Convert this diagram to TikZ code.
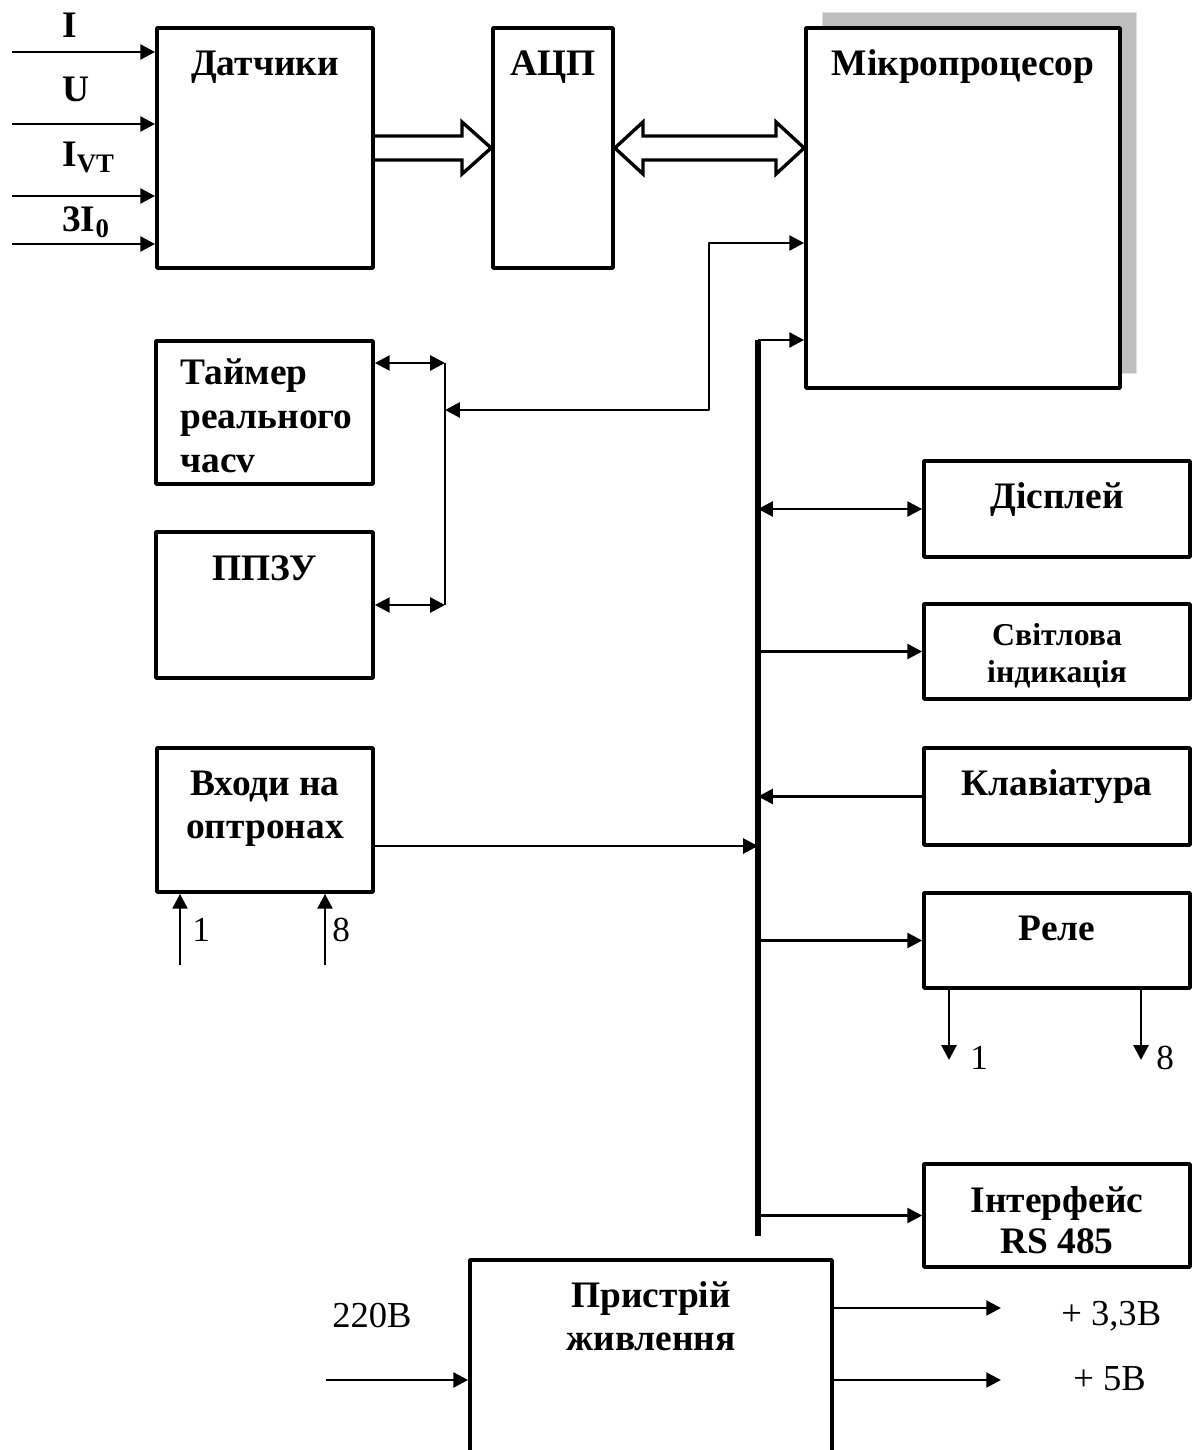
\documentclass[tikz,border=0pt]{standalone}
\usepackage{fontspec}
\setmainfont{Liberation Serif}
\usetikzlibrary{arrows.meta,fit}

\tikzset{
  blok/.style={draw, line width=2.6pt, fill=white, inner sep=0pt},
  nazva/.style={font=\bfseries\fontsize{26.6}{32}\selectfont, inner sep=0pt, anchor=base},
  mala/.style={font=\bfseries\fontsize{22.6}{27}\selectfont, inner sep=0pt, anchor=base},
  pidpys/.style={font=\fontsize{26}{30}\selectfont, inner sep=0pt, anchor=base west},
  nomer/.style={font=\fontsize{25}{29}\selectfont, inner sep=0pt, anchor=base west},
  zvyaz/.style={line width=2pt},
  shyna/.style={line width=4pt},
  porozh/.style={line width=2.4pt, line join=miter},
}

\begin{document}
\begin{tikzpicture}[x=0.025cm, y=-0.025cm, >={Triangle[length=10.5pt,width=10.5pt]}, line join=round]
        \useasboundingbox (0,0) rectangle (1196,1450);
        \clip (0,0) rectangle (1196,1450);
        % shadow of the processor
        \fill[black!25, draw=black!12, line width=0.6pt] (822,12) rectangle (1136,373);
        % blocks
        \node (dat) [blok, fit={(157,28) (373,268)}] {};
        \node (adc) [blok, fit={(493,28) (613,268)}] {};
        \node (mp) [blok, fit={(806,28) (1120,388)}] {};
        \node (tmr) [blok, fit={(156,341) (373,484)}] {};
        \node (ppzu) [blok, fit={(156,532) (373,678)}] {};
        \node (vhody) [blok, fit={(157,748) (373,892)}] {};
        \node (disp) [blok, fit={(924,461) (1190,557)}] {};
        \node (svit) [blok, fit={(924,604) (1190,699)}] {};
        \node (klav) [blok, fit={(924,748) (1190,845)}] {};
        \node (rele) [blok, fit={(924,893) (1190,988)}] {};
        \node (rs) [blok, fit={(924,1164) (1190,1267)}] {};
        \node (pwr) [blok, fit={(470,1260) (832,1480)}] {};
        % block texts
        \node (datT) [nazva] at (dat.north |- 0,76) {Датчики};
        \node (adcT) [nazva] at (adc.north |- 0,76) {АЦП};
        \node (mpT) [nazva] at (mp.north |- 0,76) {Мікропроцесор};
        \node (tmrT1) [nazva, anchor=base west] at (180,385) {Таймер};
        \node (tmrT2) [nazva, anchor=base west] at (180,429) {реального};
        \node (tmrT3) [nazva, anchor=base west] at (180,472) {часv};
        \node (ppzuT) [nazva] at (ppzu.north |- 0,580) {ППЗУ};
        \node (vhT1) [nazva] at (vhody.north |- 0,795) {Входи на};
        \node (vhT2) [nazva] at (vhody.north |- 0,838) {оптронах};
        \node (dispT) [nazva] at (disp.north |- 0,508) {Дісплей};
        \node (svT1) [mala] at (svit.north |- 0,645) {Світлова};
        \node (svT2) [mala] at (svit.north |- 0,682) {індикація};
        \node (klT) [nazva] at (klav.north |- 0,795) {Клавіатура};
        \node (relT) [nazva] at (rele.north |- 0,940) {Реле};
        \node (rsT1) [nazva] at (rs.north |- 0,1212) {Інтерфейс};
        \node (rsT2) [nazva] at (rs.north |- 0,1253) {RS 485};
        \node (pwT1) [nazva] at (pwr.north |- 0,1307) {Пристрій};
        \node (pwT2) [nazva] at (pwr.north |- 0,1350) {живлення};
        % inputs of the sensors
        \coordinate (inI) at (12,52); \coordinate (inU) at (12,124);
        \coordinate (inVT) at (12,196); \coordinate (in3I) at (12,244);
        \draw[zvyaz,->] (inI) -- (inI -| dat.west);
        \draw[zvyaz,->] (inU) -- (inU -| dat.west);
        \draw[zvyaz,->] (inVT) -- (inVT -| dat.west);
        \draw[zvyaz,->] (in3I) -- (in3I -| dat.west);
        \node (lI) [nazva, anchor=base west] at (62,38) {I};
        \node (lU) [nazva, anchor=base west] at (62,102) {U};
        \node (lVT) [nazva, anchor=base west] at (62,167) {I\raisebox{-0.15cm}{\fontsize{19}{19}\selectfont VT}};
        \node (l3I) [nazva, anchor=base west] at (62,232) {3I\raisebox{-0.15cm}{\fontsize{19}{19}\selectfont 0}};
        % wide arrows
        \draw[porozh] (dat.east |- 0,136) -- (462,136) -- (462,122) -- (adc.west |- 0,148)
            -- (462,174) -- (462,160) -- (dat.east |- 0,160);
        \draw[porozh] (adc.east |- 0,148) -- (643,122) -- (643,136) -- (776,136) -- (776,122)
            -- (mp.west |- 0,148) -- (776,174) -- (776,160) -- (643,160) -- (643,174) -- cycle;
        % timer and memory
        \coordinate (tb1) at (445,363); \coordinate (tb2) at (445,605); \coordinate (tjoin) at (445,410);
        \draw[zvyaz] (tb1) -- (tb2);
        \draw[zvyaz,<->] (tmr.east |- tb1) -- (tb1);
        \draw[zvyaz,<->] (ppzu.east |- tb2) -- (tb2);
        \draw[zvyaz,<->] (tjoin) -- (709,410) |- (mp.west |- 0,243);
        % main bus
        \coordinate (bustop) at (758,340); \coordinate (busbot) at (758,1236);
        \draw[shyna] (busbot) -- (bustop);
        \draw[zvyaz,->] (bustop) -- (bustop -| mp.west);
        \draw[zvyaz,<->] (disp.west -| bustop) -- (disp.west);
        \draw[zvyaz,->] (svit.west -| bustop) -- (svit.west);
        \draw[zvyaz,->] (klav.west) -- (klav.west -| bustop);
        \draw[zvyaz,->] (rele.west -| bustop) -- (rele.west);
        \draw[zvyaz,->] (rs.west -| bustop) -- (rs.west);
        \draw[zvyaz,->] (vhody.east |- 0,846) -- (bustop |- 0,846);
        % optocoupler inputs
        \coordinate (in1) at (180,965); \coordinate (in8) at (325,965);
        \draw[zvyaz,->] (in1) -- (in1 |- vhody.south);
        \draw[zvyaz,->] (in8) -- (in8 |- vhody.south);
        \node (n1) [nomer] at (192,941) {1};
        \node (n8) [nomer] at (332,941) {8};
        % relay outputs
        \coordinate (out1) at (949,1060); \coordinate (out8) at (1141,1060);
        \draw[zvyaz,->] (out1 |- rele.south) -- (out1);
        \draw[zvyaz,->] (out8 |- rele.south) -- (out8);
        \node (r1) [nomer] at (970,1069) {1};
        \node (r8) [nomer] at (1156,1069) {8};
        % power supply
        \coordinate (in220) at (326,1380);
        \coordinate (o33) at (1001,1308); \coordinate (o5) at (1001,1380);
        \draw[zvyaz,->] (in220) -- (in220 -| pwr.west);
        \draw[zvyaz,->] (o33 -| pwr.east) -- (o33);
        \draw[zvyaz,->] (o5 -| pwr.east) -- (o5);
        \node (l220) [pidpys] at (332,1327) {220В};
        \node (l33) [pidpys] at (1061,1325) {+ 3,3В};
        \node (l5) [pidpys] at (1073,1390) {+ 5В};
    \end{tikzpicture}
\end{document}
